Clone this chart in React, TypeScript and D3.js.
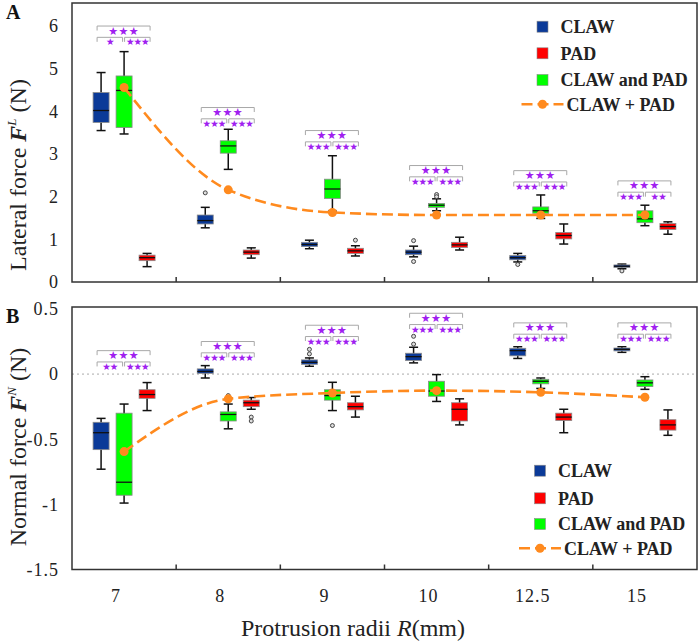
import React, { useEffect, useRef } from 'react';
import * as d3 from 'd3';

const radii = ['7', '8', '9', '10', '12.5', '15'];

// box stats per radius: [lower whisker, Q1, median, Q3, upper whisker]
const clawLateral = [
  [3.55, 3.74, 4.02, 4.44, 4.91],
  [1.27, 1.36, 1.44, 1.57, 1.75],
  [0.78, 0.83, 0.88, 0.93, 0.98],
  [0.59, 0.64, 0.70, 0.75, 0.84],
  [0.47, 0.52, 0.57, 0.62, 0.67],
  [0.31, 0.34, 0.37, 0.40, 0.42],
];
const padLateral = [
  [0.36, 0.50, 0.57, 0.63, 0.67],
  [0.56, 0.64, 0.70, 0.75, 0.80],
  [0.61, 0.67, 0.73, 0.79, 0.85],
  [0.75, 0.81, 0.87, 0.93, 1.05],
  [0.89, 1.01, 1.09, 1.16, 1.36],
  [1.12, 1.23, 1.30, 1.37, 1.41],
];
const bothLateral = [
  [3.47, 3.62, 4.49, 4.83, 5.40],
  [2.64, 3.02, 3.19, 3.31, 3.58],
  [1.66, 1.96, 2.18, 2.41, 2.96],
  [1.67, 1.75, 1.80, 1.84, 1.95],
  [1.49, 1.61, 1.67, 1.76, 2.04],
  [1.32, 1.39, 1.48, 1.67, 1.80],
];
const sumLateral = [4.56, 2.16, 1.63, 1.57, 1.57, 1.57];
const clawLateralOut = [[], [2.09], [], [0.97, 0.48], [0.41], [0.26]];
const padLateralOut = [[], [], [0.98], [], [], []];
const bothLateralOut = [[], [], [], [2.05, 2.0], [], []];

const clawNormal = [
  [-0.73, -0.58, -0.45, -0.37, -0.34],
  [-0.03, 0.006, 0.02, 0.04, 0.065],
  [0.06, 0.075, 0.09, 0.109, 0.124],
  [0.086, 0.104, 0.134, 0.16, 0.206],
  [0.12, 0.14, 0.18, 0.198, 0.21],
  [0.167, 0.178, 0.19, 0.20, 0.21],
];
const padNormal = [
  [-0.28, -0.186, -0.157, -0.12, -0.065],
  [-0.27, -0.25, -0.22, -0.20, -0.18],
  [-0.33, -0.275, -0.25, -0.22, -0.17],
  [-0.39, -0.36, -0.27, -0.22, -0.19],
  [-0.45, -0.357, -0.33, -0.30, -0.27],
  [-0.47, -0.43, -0.39, -0.35, -0.275],
];
const bothNormal = [
  [-0.99, -0.93, -0.83, -0.30, -0.23],
  [-0.42, -0.36, -0.31, -0.29, -0.23],
  [-0.28, -0.20, -0.165, -0.12, -0.063],
  [-0.21, -0.17, -0.13, -0.055, -0.004],
  [-0.11, -0.075, -0.055, -0.04, -0.03],
  [-0.117, -0.096, -0.067, -0.045, -0.02],
];
const sumNormal = [-0.595, -0.19, -0.145, -0.127, -0.14, -0.178];
const clawNormalOut = [[], [], [0.155, 0.19], [0.23, 0.29], [], []];
const padNormalOut = [[], [-0.33, -0.36], [], [], [], []];
const bothNormalOut = [[], [-0.165], [-0.395], [], [], []];

// significance: [claw vs pad (top), claw vs both, both vs pad]
const starsLateral = [
  ['★★★', '★', '★★★'],
  ['★★★', '★★★', '★★★'],
  ['★★★', '★★★', '★★★'],
  ['★★★', '★★★', '★★★'],
  ['★★★', '★★★', '★★★'],
  ['★★★', '★★★', '★★'],
];
const sigLateral = [6.0, 4.09, 3.55, 2.73, 2.61, 2.37];
const starsNormal = [
  ['★★★', '★★', '★★★'],
  ['★★★', '★★★', '★★★'],
  ['★★★', '★★★', '★★★'],
  ['★★★', '★★★', '★★★'],
  ['★★★', '★★★', '★★★'],
  ['★★★', '★★★', '★★★'],
];
const sigNormal = [0.18, 0.25, 0.375, 0.467, 0.393, 0.393];

const lateralTicks = [0, 1, 2, 3, 4, 5, 6];
const normalTicks = [-1.5, -1, -0.5, 0, 0.5];
const legendLabels = ['CLAW', 'PAD', 'CLAW and PAD', 'CLAW + PAD'];

const LEFT = 72;
const RIGHT = 697;
const SERIF = '"Liberation Serif", "Times New Roman", serif';
const colors = { claw: '#0b3a98', pad: '#ff0000', both: '#00ff00', sum: '#ff8a1e', star: '#a020f0' };

const drawPanel = (svg, p) => {
  const x = d3.scaleBand().domain(radii).range([LEFT, RIGHT]);
  const y = d3.scaleLinear().domain(p.yDomain).range([p.bottom, p.top]);
  const cx = (i, off) => x(radii[i]) + x.bandwidth() / 2 + off;
  const g = svg.append('g');

  if (p.zero) {
    g.append('line')
      .attr('x1', LEFT).attr('x2', RIGHT)
      .attr('y1', y(0)).attr('y2', y(0))
      .attr('stroke', '#aaa').attr('stroke-width', 1)
      .attr('stroke-dasharray', '2,3');
  }

  const series = [
    { stats: p.claw, out: p.clawOut, color: colors.claw, off: -23 },
    { stats: p.both, out: p.bothOut, color: colors.both, off: 0 },
    { stats: p.pad, out: p.padOut, color: colors.pad, off: 23 },
  ];
  const bw = 16;
  series.forEach(s => {
    s.stats.forEach((b, i) => {
      const c = cx(i, s.off);
      const [lo, q1, med, q3, hi] = b;
      g.append('line').attr('x1', c).attr('x2', c).attr('y1', y(lo)).attr('y2', y(hi))
        .attr('stroke', '#111').attr('stroke-width', 1.5);
      [lo, hi].forEach(v => {
        g.append('line').attr('x1', c - 4.5).attr('x2', c + 4.5).attr('y1', y(v)).attr('y2', y(v))
          .attr('stroke', '#111').attr('stroke-width', 1.5);
      });
      g.append('rect')
        .attr('x', c - bw / 2).attr('width', bw)
        .attr('y', y(q3)).attr('height', Math.max(1, y(q1) - y(q3)))
        .attr('fill', s.color).attr('stroke', '#8a8a8a').attr('stroke-width', 0.8);
      g.append('line').attr('x1', c - bw / 2).attr('x2', c + bw / 2).attr('y1', y(med)).attr('y2', y(med))
        .attr('stroke', '#111').attr('stroke-width', 1.3);
      s.out[i].forEach(v => {
        g.append('circle').attr('cx', c).attr('cy', y(v)).attr('r', 2)
          .attr('fill', '#ddd').attr('stroke', '#333').attr('stroke-width', 0.9);
      });
    });
  });

  // CLAW + PAD sum curve
  const line = d3.line()
    .x((d, i) => cx(i, 0))
    .y(d => y(d))
    .curve(d3.curveMonotoneX);
  g.append('path').datum(p.sum)
    .attr('d', line).attr('fill', 'none')
    .attr('stroke', colors.sum).attr('stroke-width', 2.6)
    .attr('stroke-dasharray', '11,5');
  g.selectAll('.sumdot').data(p.sum).enter().append('circle')
    .attr('cx', (d, i) => cx(i, 0)).attr('cy', d => y(d)).attr('r', 4.5)
    .attr('fill', colors.sum);

  // significance brackets
  p.sig.forEach((v, i) => {
    const c = cx(i, 0);
    const yt = y(v);
    const yl = yt + 11.3;
    const spans = [
      [c - 27, c + 26, yt, 0],
      [c - 27, c - 1.5, yl, 1],
      [c + 0.5, c + 26, yl, 2],
    ];
    spans.forEach(([a, b, yy, k]) => {
      g.append('path')
        .attr('d', `M${a},${yy + 4.5}V${yy}H${b}V${yy + 4.5}`)
        .attr('fill', 'none').attr('stroke', '#a8a8a8').attr('stroke-width', 1);
      g.append('text')
        .attr('x', (a + b) / 2).attr('y', yy + (k === 0 ? 8.5 : 8))
        .attr('text-anchor', 'middle')
        .attr('font-family', '"DejaVu Sans", sans-serif')
        .attr('font-size', k === 0 ? 11 : 9.5)
        .attr('letter-spacing', k === 0 ? 0.4 : -0.9)
        .attr('fill', colors.star)
        .text(p.stars[i][k]);
    });
  });

  // frame
  g.append('rect').attr('x', LEFT).attr('y', p.top)
    .attr('width', RIGHT - LEFT).attr('height', p.bottom - p.top)
    .attr('fill', 'none').attr('stroke', '#333').attr('stroke-width', 1.5);

  // bottom ticks between categories
  radii.slice(1).forEach(r => {
    g.append('line').attr('x1', x(r)).attr('x2', x(r))
      .attr('y1', p.bottom).attr('y2', p.bottom - 5)
      .attr('stroke', '#333').attr('stroke-width', 1.5);
  });

  // y tick labels
  p.ticks.forEach(t => {
    g.append('text')
      .attr('x', 59).attr('y', y(t)).attr('dy', '0.35em')
      .attr('text-anchor', 'end')
      .attr('font-family', SERIF).attr('font-size', 18)
      .attr('letter-spacing', 1)
      .attr('fill', '#222')
      .text(String(t));
  });

  // y axis title
  const title = g.append('text')
    .attr('transform', `translate(${p.titleX},${p.titleY}) rotate(-90)`)
    .attr('text-anchor', 'middle')
    .attr('font-family', SERIF).attr('font-size', 24)
    .attr('fill', '#222');
  title.append('tspan').text(p.title + ' ');
  title.append('tspan').attr('font-weight', 'bold').attr('font-style', 'italic').text('F');
  title.append('tspan').attr('font-style', 'italic').attr('font-size', 13).attr('dy', -10).text(p.sup);
  title.append('tspan').attr('dy', 10).text(' (N)');

  // panel letter
  g.append('text').attr('x', 6).attr('y', p.top + 16)
    .attr('font-family', SERIF).attr('font-size', 20).attr('font-weight', 'bold')
    .attr('fill', '#111').text(p.letter);

  // legend
  const lg = g.append('g').attr('font-family', SERIF).attr('font-weight', 'bold').attr('font-size', 18);
  const swatch = [colors.claw, colors.pad, colors.both];
  p.legendRows.forEach((ry, k) => {
    if (k < 3) {
      lg.append('rect').attr('x', p.legendX - 5.5).attr('y', ry - 5.5)
        .attr('width', 11).attr('height', 11)
        .attr('fill', swatch[k]).attr('stroke', '#8a8a8a').attr('stroke-width', 0.6);
      lg.append('text').attr('x', p.legendX + 18).attr('y', ry).attr('dy', '0.35em')
        .attr('fill', '#222').text(legendLabels[k]);
    } else {
      lg.append('line').attr('x1', p.legendX - 21).attr('x2', p.legendX + 21)
        .attr('y1', ry).attr('y2', ry)
        .attr('stroke', colors.sum).attr('stroke-width', 2.6).attr('stroke-dasharray', '11,5');
      lg.append('circle').attr('cx', p.legendX).attr('cy', ry).attr('r', 4.5).attr('fill', colors.sum);
      lg.append('text').attr('x', p.legendX + 24).attr('y', ry).attr('dy', '0.35em')
        .attr('fill', '#222').text(legendLabels[k]);
    }
  });

  if (p.xLabels) {
    radii.forEach(r => {
      g.append('text')
        .attr('x', x(r) + x.bandwidth() / 2 - 8).attr('y', p.bottom + 32)
        .attr('text-anchor', 'middle')
        .attr('font-family', SERIF).attr('font-size', 18).attr('letter-spacing', 1)
        .attr('fill', '#222').text(r);
    });
    const xt = g.append('text').attr('x', 353).attr('y', 636)
      .attr('text-anchor', 'middle')
      .attr('font-family', SERIF).attr('font-size', 24).attr('fill', '#222');
    xt.append('tspan').text('Protrusion radii ');
    xt.append('tspan').attr('font-style', 'italic').text('R');
    xt.append('tspan').text('(mm)');
  }
};

const App = () => {
  const ref = useRef(null);

  useEffect(() => {
    const svg = d3.select(ref.current);
    svg.selectAll('*').remove();
    svg.append('rect').attr('width', 700).attr('height', 643).attr('fill', '#fff');

    drawPanel(svg, {
      top: 3, bottom: 282, yDomain: [0, 6.54], ticks: lateralTicks,
      claw: clawLateral, pad: padLateral, both: bothLateral,
      clawOut: clawLateralOut, padOut: padLateralOut, bothOut: bothLateralOut,
      sum: sumLateral, sig: sigLateral, stars: starsLateral,
      title: 'Lateral force', sup: 'L', titleX: 26, titleY: 175, letter: 'A',
      legendX: 542.5, legendRows: [26.7, 53.3, 80, 104.3],
      zero: false, xLabels: false,
    });
    drawPanel(svg, {
      top: 307, bottom: 569.5, yDomain: [-1.5, 0.515], ticks: normalTicks,
      claw: clawNormal, pad: padNormal, both: bothNormal,
      clawOut: clawNormalOut, padOut: padNormalOut, bothOut: bothNormalOut,
      sum: sumNormal, sig: sigNormal, stars: starsNormal,
      title: 'Normal force', sup: 'N', titleX: 26, titleY: 447, letter: 'B',
      legendX: 540, legendRows: [470.7, 498.3, 524, 548.3],
      zero: true, xLabels: true,
    });
  }, []);

  return (
    <svg ref={ref} width={700} height={643} style={{ position: 'absolute', left: 0, top: 0 }} />
  );
};

export default App;
